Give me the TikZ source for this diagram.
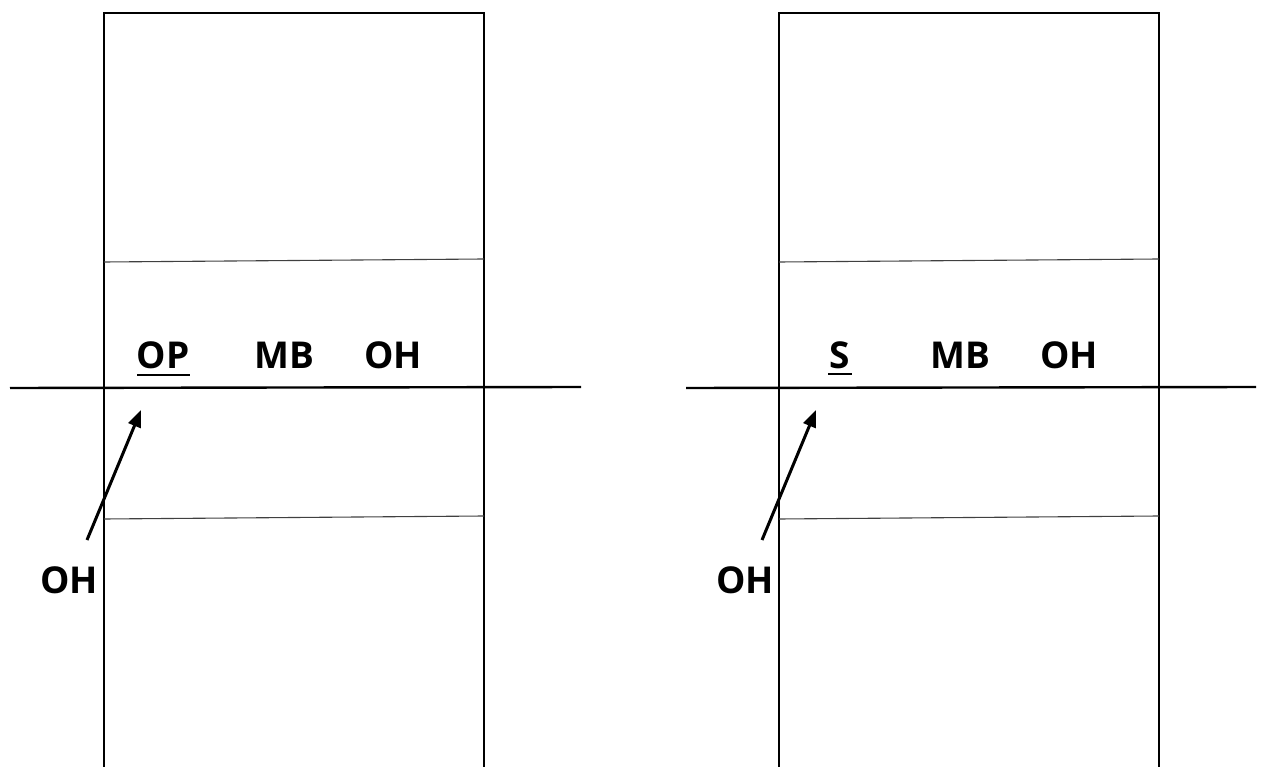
\documentclass[tikz,border=0pt]{standalone}
\usepackage{fontspec}
\setmainfont{Open Sans}
\usetikzlibrary{arrows.meta}
\tikzset{
  court/.style={line width=2.6pt, line cap=butt},
  netline/.style={line width=2.4pt},
  zoneline/.style={line width=1.1pt, draw=black!75},
  lbl/.style={font=\fontsize{37}{42}\selectfont\bfseries, inner sep=0pt, anchor=base},
  moveto/.style={line width=3pt, -{Triangle[length=17pt,width=13pt]}}
}
\begin{document}
\begin{tikzpicture}[x=1pt,y=-1pt]
\useasboundingbox (0,0) rectangle (1270,767);
% ---- left court ----
\draw[court] (104,767) -- (104,13) -- (484,13) -- (484,767);
\draw[zoneline] (104,262) -- (484,259);
\draw[zoneline] (104,519) -- (484,516);
\draw[netline] (10,388) -- (581,387);
\node[lbl] (lop) at (163,369) {OP};
\draw[line width=1.5pt] (137,375) -- (190,375);
\node[lbl] (lmb) at (284,369) {MB};
\node[lbl] (loh) at (393,369) {OH};
\node[lbl] (lohb) at (69,593) {OH};
\coordinate (lta) at (87,540);
\coordinate (ltb) at (141,410);
\draw[moveto] (lta) -- (ltb);
% ---- right court ----
\draw[court] (779,767) -- (779,13) -- (1159,13) -- (1159,767);
\draw[zoneline] (779,262) -- (1159,259);
\draw[zoneline] (779,519) -- (1159,516);
\draw[netline] (686,388) -- (1256,387);
\node[lbl] (rs) at (840,369) {S};
\draw[line width=1.5pt] (828,374) -- (852,374);
\node[lbl] (rmb) at (960,369) {MB};
\node[lbl] (roh) at (1069,369) {OH};
\node[lbl] (rohb) at (745,593) {OH};
\coordinate (rta) at (762,540);
\coordinate (rtb) at (816,410);
\draw[moveto] (rta) -- (rtb);
\end{tikzpicture}
\end{document}
